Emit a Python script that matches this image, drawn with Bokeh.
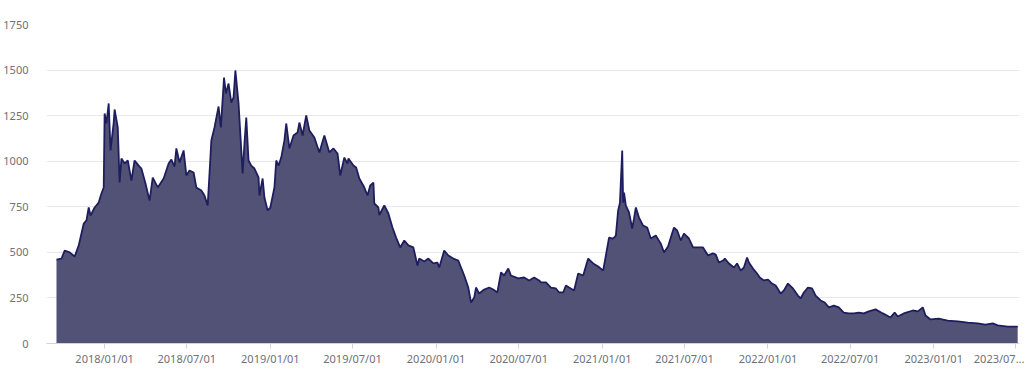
from datetime import datetime
from bokeh.plotting import figure
from bokeh.models import ColumnDataSource, FixedTicker, Range1d, DatetimeAxis
from bokeh.embed import file_html
from bokeh.resources import INLINE

dates = [
    "2017-09-17", "2017-09-28", "2017-10-05", "2017-10-16", "2017-10-27", "2017-11-05",
    "2017-11-16", "2017-11-22", "2017-11-27", "2017-12-01", "2017-12-10", "2017-12-19",
    "2017-12-25", "2017-12-30", "2018-01-01", "2018-01-05", "2018-01-10", "2018-01-14",
    "2018-01-21", "2018-01-23", "2018-01-30", "2018-02-03", "2018-02-07", "2018-02-14",
    "2018-02-21", "2018-03-01", "2018-03-08", "2018-03-17", "2018-03-23", "2018-04-01",
    "2018-04-10", "2018-04-17", "2018-04-28", "2018-05-11", "2018-05-22", "2018-05-28",
    "2018-06-04", "2018-06-08", "2018-06-15", "2018-06-24", "2018-06-30", "2018-07-07",
    "2018-07-16", "2018-07-22", "2018-08-02", "2018-08-09", "2018-08-16", "2018-08-22",
    "2018-08-24", "2018-08-31", "2018-09-09", "2018-09-14", "2018-09-21", "2018-09-25",
    "2018-10-01", "2018-10-07", "2018-10-12", "2018-10-16", "2018-10-23", "2018-11-01",
    "2018-11-05", "2018-11-09", "2018-11-14", "2018-11-20", "2018-11-27", "2018-12-06",
    "2018-12-08", "2018-12-15", "2018-12-19", "2018-12-26", "2019-01-01", "2019-01-10",
    "2019-01-14", "2019-01-19", "2019-01-25", "2019-02-01", "2019-02-05", "2019-02-12",
    "2019-02-21", "2019-03-02", "2019-03-06", "2019-03-13", "2019-03-21", "2019-03-28",
    "2019-04-08", "2019-04-19", "2019-04-30", "2019-05-11", "2019-05-20", "2019-05-29",
    "2019-06-04", "2019-06-13", "2019-06-20", "2019-06-22", "2019-07-03", "2019-07-09",
    "2019-07-16", "2019-07-27", "2019-08-03", "2019-08-09", "2019-08-16", "2019-08-18",
    "2019-08-27", "2019-08-29", "2019-09-09", "2019-09-18", "2019-09-27", "2019-10-05",
    "2019-10-14", "2019-10-23", "2019-11-01", "2019-11-12", "2019-11-21", "2019-11-25",
    "2019-12-06", "2019-12-15", "2019-12-26", "2020-01-04", "2020-01-08", "2020-01-19",
    "2020-01-28", "2020-02-08", "2020-02-19", "2020-02-25", "2020-03-03", "2020-03-12",
    "2020-03-18", "2020-03-25", "2020-03-29", "2020-04-05", "2020-04-16", "2020-04-27",
    "2020-05-06", "2020-05-15", "2020-05-23", "2020-05-30", "2020-06-08", "2020-06-14",
    "2020-06-30", "2020-07-13", "2020-07-24", "2020-08-04", "2020-08-15", "2020-08-19",
    "2020-08-30", "2020-09-10", "2020-09-21", "2020-09-28", "2020-10-07", "2020-10-13",
    "2020-10-20", "2020-10-31", "2020-11-09", "2020-11-20", "2020-12-01", "2020-12-12",
    "2020-12-23", "2021-01-03", "2021-01-09", "2021-01-16", "2021-01-25", "2021-01-31",
    "2021-02-05", "2021-02-09", "2021-02-14", "2021-02-16", "2021-02-18", "2021-02-22",
    "2021-03-01", "2021-03-08", "2021-03-12", "2021-03-16", "2021-03-23", "2021-04-01",
    "2021-04-10", "2021-04-18", "2021-04-29", "2021-05-10", "2021-05-17", "2021-05-26",
    "2021-06-01", "2021-06-08", "2021-06-15", "2021-06-23", "2021-06-30", "2021-07-11",
    "2021-07-20", "2021-07-31", "2021-08-11", "2021-08-22", "2021-09-02", "2021-09-08",
    "2021-09-15", "2021-09-24", "2021-09-28", "2021-10-07", "2021-10-18", "2021-10-25",
    "2021-11-02", "2021-11-09", "2021-11-16", "2021-11-20", "2021-11-29", "2021-12-08",
    "2021-12-14", "2021-12-23", "2022-01-01", "2022-01-10", "2022-01-18", "2022-01-29",
    "2022-02-05", "2022-02-14", "2022-02-25", "2022-03-08", "2022-03-14", "2022-03-21",
    "2022-03-30", "2022-04-08", "2022-04-16", "2022-04-27", "2022-05-06", "2022-05-15",
    "2022-05-26", "2022-06-06", "2022-06-17", "2022-06-28", "2022-07-09", "2022-07-20",
    "2022-07-31", "2022-08-11", "2022-08-26", "2022-09-11", "2022-09-28", "2022-10-07",
    "2022-10-14", "2022-10-27", "2022-11-16", "2022-11-27", "2022-12-08", "2022-12-14",
    "2022-12-25", "2023-01-12", "2023-02-01", "2023-02-23", "2023-03-17", "2023-04-08",
    "2023-04-25", "2023-05-11", "2023-05-22", "2023-06-13", "2023-07-05",
]

values = [
    460, 465, 510, 500, 477, 538,
    658, 675, 746, 702, 746, 773,
    823, 856, 1262, 1207, 1317, 1059,
    1212, 1284, 1185, 883, 1015, 987,
    1004, 894, 1004, 976, 960, 878,
    784, 910, 856, 905, 987, 1009,
    971, 1070, 993, 1059, 922, 949,
    938, 856, 839, 812, 757, 1020,
    1114, 1185, 1300, 1185, 1459, 1371,
    1426, 1322, 1350, 1498, 1317, 933,
    1097, 1240, 1004, 976, 960, 911,
    812, 905, 801, 730, 746, 856,
    1004, 976, 1020, 1114, 1207, 1070,
    1141, 1158, 1212, 1141, 1251, 1169,
    1130, 1048, 1141, 1048, 1070, 1042,
    922, 1020, 987, 1015, 976, 966,
    905, 856, 812, 867, 883, 768,
    746, 705, 757, 713, 636, 581,
    527, 565, 538, 527, 428, 466,
    450, 466, 439, 444, 417, 510,
    483, 466, 455, 417, 373, 307,
    225, 252, 307, 274, 296, 307,
    296, 280, 390, 373, 411, 373,
    357, 362, 346, 362, 346, 335,
    335, 307, 302, 280, 280, 318,
    307, 291, 384, 373, 466, 439,
    422, 400, 483, 581, 576, 592,
    730, 773, 1059, 773, 828, 757,
    719, 631, 686, 746, 691, 647,
    636, 576, 592, 548, 499, 532,
    581, 636, 620, 565, 603, 576,
    527, 527, 527, 483, 494, 488,
    444, 455, 466, 439, 417, 439,
    400, 417, 472, 444, 411, 384,
    362, 346, 351, 329, 318, 274,
    291, 329, 302, 263, 247, 280,
    307, 302, 263, 236, 225, 198,
    208, 198, 170, 165, 165, 170,
    165, 176, 187, 165, 143, 170,
    148, 165, 181, 176, 198, 154,
    132, 137, 126, 121, 115, 110,
    104, 110, 99, 93, 93,
]

tick_dates = ["2018-01-01", "2018-07-01", "2019-01-01", "2019-07-01", "2020-01-01",
              "2020-07-01", "2021-01-01", "2021-07-01", "2022-01-01", "2022-07-01",
              "2023-01-01", "2023-07-01"]
tick_labels = ["2018/01/01", "2018/07/01", "2019/01/01", "2019/07/01", "2020/01/01",
               "2020/07/01", "2021/01/01", "2021/07/01", "2022/01/01", "2022/07/01",
               "2023/01/01", "2023/07..."]
y_ticks = [0, 250, 500, 750, 1000, 1250, 1500, 1750]


def ms(s):
    return datetime.strptime(s, "%Y-%m-%d").timestamp() * 1000.0


x = [datetime.strptime(d, "%Y-%m-%d") for d in dates]
src = ColumnDataSource(dict(x=x, y=values, zero=[0] * len(values)))

FONT = "Noto Sans"
LABEL = "#6e7079"
GRID = "#e6e9f0"

p = figure(width=1024, height=378, output_backend="svg", toolbar_location=None,
           x_axis_type=None, y_range=Range1d(0, 1750),
           x_range=Range1d(datetime(2017, 8, 26), datetime(2023, 7, 9)),
           min_border_left=45, min_border_right=5, min_border_top=24, min_border_bottom=35)
p.outline_line_color = None
p.background_fill_color = "white"
p.border_fill_color = "white"

xaxis = DatetimeAxis(ticker=FixedTicker(ticks=[ms(d) for d in tick_dates]))
xaxis.major_label_overrides = {ms(d): lab for d, lab in zip(tick_dates, tick_labels)}
xaxis.axis_line_color = "#cfd3dc"
xaxis.major_tick_line_color = "#cfd3dc"
xaxis.major_tick_out = 5
xaxis.major_tick_in = 0
xaxis.minor_tick_out = 0
xaxis.minor_tick_in = 0
xaxis.major_label_standoff = 2
xaxis.major_label_text_font = FONT
xaxis.major_label_text_font_size = "11px"
xaxis.major_label_text_color = LABEL
p.add_layout(xaxis, "below")

p.yaxis.ticker = FixedTicker(ticks=y_ticks)
p.yaxis.axis_line_color = None
p.yaxis.major_tick_line_color = None
p.yaxis.minor_tick_line_color = None
p.yaxis.major_label_standoff = 12
p.yaxis.major_label_text_font = FONT
p.yaxis.major_label_text_font_size = "11px"
p.yaxis.major_label_text_color = LABEL

p.xgrid.grid_line_color = None
p.ygrid.ticker = FixedTicker(ticks=y_ticks)
p.ygrid.grid_line_color = GRID
p.ygrid.grid_line_width = 1

p.varea(x="x", y1="zero", y2="y", source=src, fill_color="#525276", fill_alpha=1.0)
p.line(x="x", y="y", source=src, line_color="#1e1e5e", line_width=1.8)

open("out.html", "w").write(file_html(p, INLINE))
